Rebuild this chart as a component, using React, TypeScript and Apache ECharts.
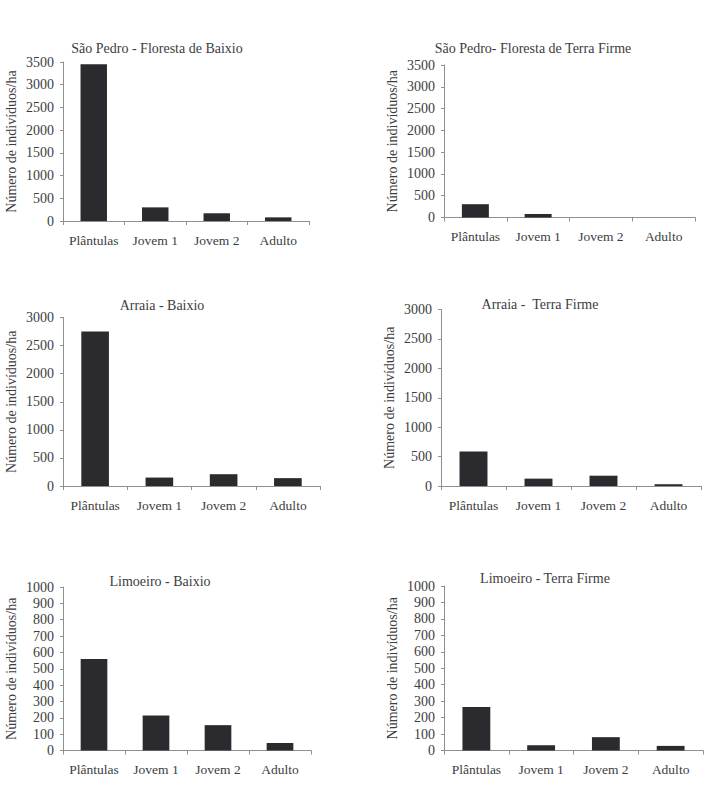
import React, { useEffect, useRef } from "react";
import * as echarts from "echarts";

const categories = ["Plântulas", "Jovem 1", "Jovem 2", "Adulto"];
const titles = [
  "São Pedro - Floresta de Baixio",
  "São Pedro- Floresta de Terra Firme",
  "Arraia - Baixio",
  "Arraia -  Terra Firme",
  "Limoeiro - Baixio",
  "Limoeiro - Terra Firme",
];
const saoPedroBaixio = [3450, 300, 170, 80];
const saoPedroTerraFirme = [305, 80, 0, 0];
const arraiaBaixio = [2750, 150, 210, 140];
const arraiaTerraFirme = [585, 125, 175, 30];
const limoeiroBaixio = [560, 214, 155, 46];
const limoeiroTerraFirme = [265, 32, 81, 28];
const seriesData = [
  saoPedroBaixio,
  saoPedroTerraFirme,
  arraiaBaixio,
  arraiaTerraFirme,
  limoeiroBaixio,
  limoeiroTerraFirme,
];
const yMax = [3500, 3500, 3000, 3000, 1000, 1000];
const yInterval = [500, 500, 500, 500, 100, 100];
const yName = "Número de indivíduos/ha";

// layout (pixels)
const grids = [
  { left: 63, top: 62, width: 246, height: 159 },
  { left: 444, top: 65, width: 251, height: 152.5 },
  { left: 63, top: 317.5, width: 257, height: 168.5 },
  { left: 441, top: 309.5, width: 260, height: 176.5 },
  { left: 63, top: 587, width: 248, height: 163.5 },
  { left: 444, top: 586, width: 259, height: 164.5 },
];
const titlePos = [
  { x: 152, y: 43 },
  { x: 528, y: 43 },
  { x: 157, y: 300 },
  { x: 535, y: 299 },
  { x: 155, y: 576 },
  { x: 540, y: 573 },
];

const FONT = "'Liberation Serif', 'DejaVu Serif', serif";
const TEXT = "#3d3d3d";
const AXIS = "#8f8f8f";
const BAR = "#2a2a2f";

export default function App() {
  const ref = useRef<HTMLDivElement>(null);
  useEffect(() => {
    if (!ref.current) return;
    const chart = echarts.init(ref.current, null, { renderer: "svg" });
    const option: any = {
      animation: false,
      backgroundColor: "#ffffff",
      title: titles.map((t, i) => ({
        text: t,
        left: titlePos[i].x,
        top: titlePos[i].y,
        textAlign: "center",
        textVerticalAlign: "middle",
        textStyle: { fontFamily: FONT, fontSize: 14, fontWeight: "normal", color: TEXT },
      })),
      grid: grids.map((g) => ({ ...g, containLabel: false })),
      xAxis: grids.map((_, i) => ({
        type: "category",
        gridIndex: i,
        data: categories,
        boundaryGap: true,
        axisLine: { lineStyle: { color: AXIS, width: 1 } },
        axisTick: { show: true, length: 4, alignWithLabel: false, lineStyle: { color: AXIS } },
        axisLabel: { fontFamily: FONT, fontSize: 13.5, color: TEXT, margin: 12, interval: 0 },
        splitLine: { show: false },
      })),
      yAxis: grids.map((_, i) => ({
        type: "value",
        gridIndex: i,
        min: 0,
        max: yMax[i],
        interval: yInterval[i],
        name: yName,
        nameLocation: "middle",
        nameGap: 45,
        nameTextStyle: { fontFamily: FONT, fontSize: 14, color: TEXT },
        axisLine: { show: true, lineStyle: { color: AXIS, width: 1 } },
        axisTick: { show: true, length: 3, lineStyle: { color: AXIS } },
        axisLabel: {
          fontFamily: FONT,
          fontSize: 14,
          color: TEXT,
          margin: 9,
          formatter: (v: number) => String(v),
        },
        splitLine: { show: false },
      })),
      series: seriesData.map((d, i) => ({
        type: "bar",
        xAxisIndex: i,
        yAxisIndex: i,
        data: d,
        barWidth: "43%",
        itemStyle: { color: BAR },
      })),
    };
    chart.setOption(option);
    return () => chart.dispose();
  }, []);
  return (
    <div
      ref={ref}
      style={{ position: "absolute", left: 0, top: 0, width: 706, height: 787, background: "#fff" }}
    />
  );
}
